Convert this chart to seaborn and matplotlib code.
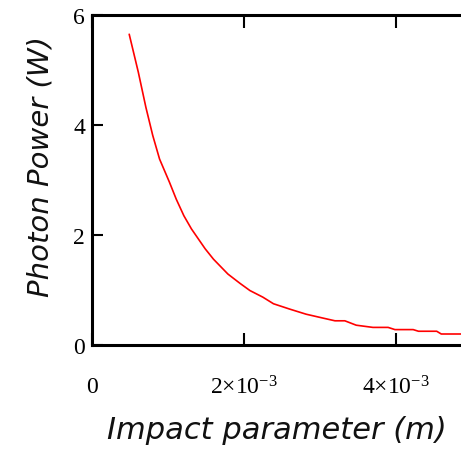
import matplotlib
matplotlib.use("Agg")
import matplotlib.pyplot as plt
import seaborn as sns
import pandas as pd

# Data
impact_m = [0.49e-3, 0.61e-3, 0.71e-3, 0.80e-3, 0.89e-3, 1.02e-3, 1.11e-3, 1.21e-3,
            1.31e-3, 1.49e-3, 1.60e-3, 1.79e-3, 1.95e-3, 2.08e-3, 2.25e-3, 2.39e-3,
            2.61e-3, 2.82e-3, 3.04e-3, 3.20e-3, 3.33e-3, 3.48e-3, 3.70e-3, 3.90e-3,
            3.99e-3, 4.23e-3, 4.30e-3, 4.54e-3, 4.60e-3, 4.86e-3]
power_w = [5.65, 4.96, 4.32, 3.81, 3.38, 2.96, 2.65, 2.35,
           2.11, 1.75, 1.56, 1.29, 1.12, 0.99, 0.87, 0.75,
           0.65, 0.56, 0.49, 0.44, 0.44, 0.36, 0.32, 0.32,
           0.28, 0.28, 0.25, 0.25, 0.20, 0.20]
x_ticks = [0, 2e-3, 4e-3]
x_tick_labels = ["0", r"$2{\times}10^{-3}$", r"$4{\times}10^{-3}$"]
y_ticks = [0, 2, 4, 6]
y_tick_labels = ["0", "2", "4", "6"]

sns.set_style("white")
plt.rcParams["mathtext.fontset"] = "custom"
plt.rcParams["mathtext.rm"] = "Liberation Serif"
plt.rcParams["mathtext.it"] = "Liberation Serif:italic"

df = pd.DataFrame({"x": impact_m, "y": power_w})

fig = plt.figure(figsize=(4.61, 4.52), dpi=100)
ax = fig.add_axes([92/461, 1 - 346/452, 1 - 92/461, (346 - 16)/452])
sns.lineplot(data=df, x="x", y="y", ax=ax, color="#ff0000", linewidth=1.2)

ax.set_xlim(0, 4.86e-3)
ax.set_ylim(0, 6)
ax.set_xticks(x_ticks)
ax.set_xticklabels(x_tick_labels)
ax.set_yticks(y_ticks)
ax.set_yticklabels(y_tick_labels)

for s in ["left", "bottom", "top"]:
    ax.spines[s].set_color("black")
    ax.spines[s].set_linewidth(2.2)
ax.spines["right"].set_visible(False)

ax.tick_params(axis="x", which="both", direction="in", length=9, width=1.5,
               top=True, bottom=True, pad=22, labelsize=17, colors="black")
ax.tick_params(axis="y", which="both", direction="in", length=8, width=1.5,
               left=True, right=False, pad=5, labelsize=17, colors="black")
for lbl in ax.get_xticklabels() + ax.get_yticklabels():
    lbl.set_fontfamily("Liberation Serif")

ax.set_xlabel("Impact parameter (m)", fontsize=22, style="italic",
              family="DejaVu Sans", color="#111111")
ax.set_ylabel("Photon Power (W)", fontsize=21, style="italic",
              family="DejaVu Sans", color="#111111")
ax.xaxis.set_label_coords((277 - 92) / (461 - 92), -(416 - 346) / 330)
ax.yaxis.set_label_coords(-(92 - 54) / 369, (346 - 167) / 330)

fig.savefig("out.png", dpi=100)
